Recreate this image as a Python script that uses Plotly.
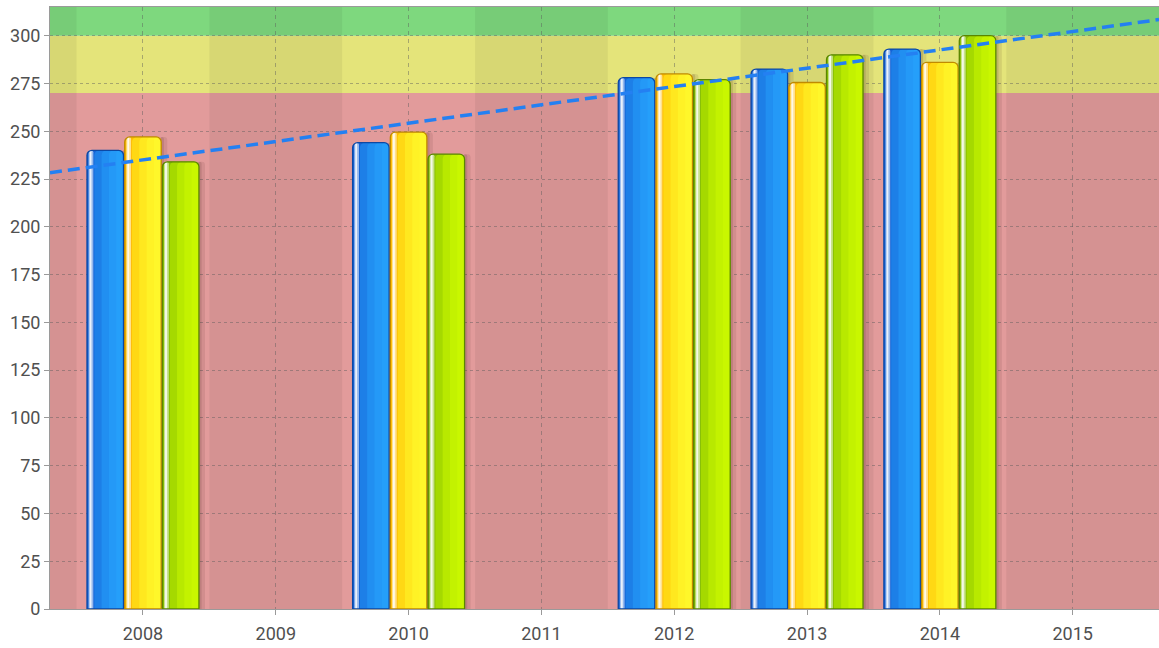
import numpy as np
import plotly.graph_objects as go

# ---- data ----
years = [2008, 2010, 2012, 2013, 2014]
tick_years = [2008, 2009, 2010, 2011, 2012, 2013, 2014, 2015]
blue_vals = [240, 244, 278, 282.5, 293]
yellow_vals = [247, 249.5, 280, 275.5, 286]
green_vals = [234, 238, 277, 290, 300]
band_edges = [0, 270, 300, 315]
y_ticks = list(range(0, 301, 25))

# ---- styling ----
X_RANGE = [2007.3, 2015.65]
Y_RANGE = [0, 315]
band_colors = ["#e29b9b", "#e4e47a", "#7ed87e"]
BAR_W = 0.275
SPACING = 0.284
FONT = "Roboto, DejaVu Sans Condensed, sans-serif"

series = [
    dict(vals=blue_vals, left="#1563d6", right="#29a8ff", border="#0c48a4", pos=-1),
    dict(vals=yellow_vals, left="#ffbc00", right="#ffff30", border="#c08a00", pos=0),
    dict(vals=green_vals, left="#86be00", right="#d2ff00", border="#5a8600", pos=1),
]


def hex_rgba(h, a):
    h = h.lstrip("#")
    r, g, b = int(h[0:2], 16), int(h[2:4], 16), int(h[4:6], 16)
    return f"rgba({r},{g},{b},{a})"


fig = go.Figure()
RADIUS = 5

def add_bar(vals, offset, width, color, line_color=None, line_width=0, radius=RADIUS):
    fig.add_trace(go.Bar(
        x=years, y=vals, offset=offset, width=width,
        marker=dict(color=color, cornerradius=radius,
                    line=dict(color=line_color or "rgba(0,0,0,0)", width=line_width)),
        showlegend=False, hoverinfo="skip",
    ))

# shadows
for s in series:
    off = s["pos"] * SPACING - BAR_W / 2
    add_bar(s["vals"], off + BAR_W - 0.01, 0.055, "rgba(70,30,30,0.10)", radius=3)
    add_bar(s["vals"], off + BAR_W - 0.01, 0.03, "rgba(70,30,30,0.14)", radius=3)

# bodies with pseudo gradient
for s in series:
    off = s["pos"] * SPACING - BAR_W / 2
    add_bar(s["vals"], off, BAR_W, s["left"])
    for k in range(1, 5):
        add_bar(s["vals"], off + k * BAR_W / 5, BAR_W - k * BAR_W / 5,
                hex_rgba(s["right"], 0.42))
    # highlight strip
    add_bar(s["vals"], off + 0.012, 0.036, "rgba(255,255,255,0.55)", radius=2)
    add_bar(s["vals"], off + 0.02, 0.014, "rgba(255,255,255,0.8)", radius=1)
    # outline
    add_bar(s["vals"], off, BAR_W, "rgba(0,0,0,0)", s["border"], 1.3)

# trend line from all points
all_x = np.concatenate([years, years, years]).astype(float)
all_y = np.concatenate([blue_vals, yellow_vals, green_vals]).astype(float)
slope, intercept = np.polyfit(all_x, all_y, 1)
tx = np.array(X_RANGE)
fig.add_trace(go.Scatter(
    x=tx, y=slope * tx + intercept, mode="lines",
    line=dict(color="#2480f2", width=3.5, dash="12px,6px"),
    showlegend=False, hoverinfo="skip",
))

shapes = []
for i, c in enumerate(band_colors):
    shapes.append(dict(type="rect", xref="paper", yref="y", x0=0, x1=1,
                       y0=band_edges[i], y1=band_edges[i + 1],
                       fillcolor=c, line=dict(width=0), layer="below"))
for yr in range(tick_years[0] - 1, tick_years[-1] + 1):
    if yr % 2 == 1:
        x1 = X_RANGE[1] if yr == tick_years[-1] else yr + 0.5
        shapes.append(dict(type="rect", xref="x", yref="paper", x0=yr - 0.5, x1=x1,
                           y0=0, y1=1, fillcolor="rgba(0,0,0,0.055)",
                           line=dict(width=0), layer="below"))

fig.update_layout(
    width=1159, height=648,
    margin=dict(l=50, r=0, t=7, b=39),
    paper_bgcolor="white", plot_bgcolor="white",
    barmode="overlay",
    shapes=shapes,
    font=dict(family=FONT, size=18, color="#505050"),
    xaxis=dict(range=X_RANGE, tickvals=tick_years, ticktext=[str(y) for y in tick_years],
               showgrid=True, gridcolor="rgba(90,90,90,0.45)", griddash="4px,4px", gridwidth=1,
               showline=True, linecolor="#9a9a9a", linewidth=1, mirror=True,
               ticks="outside", ticklen=5, tickcolor="#9a9a9a", zeroline=False,
               ticklabelstandoff=3),
    yaxis=dict(range=Y_RANGE, tickvals=y_ticks,
               showgrid=True, gridcolor="rgba(90,90,90,0.45)", griddash="3px,3px", gridwidth=1,
               showline=True, linecolor="#9a9a9a", linewidth=1,
               ticks="outside", ticklen=5, tickcolor="#9a9a9a", zeroline=False),
)

fig.write_html("out.html", config={"displayModeBar": False},
               post_script="document.body.style.margin='0';")
